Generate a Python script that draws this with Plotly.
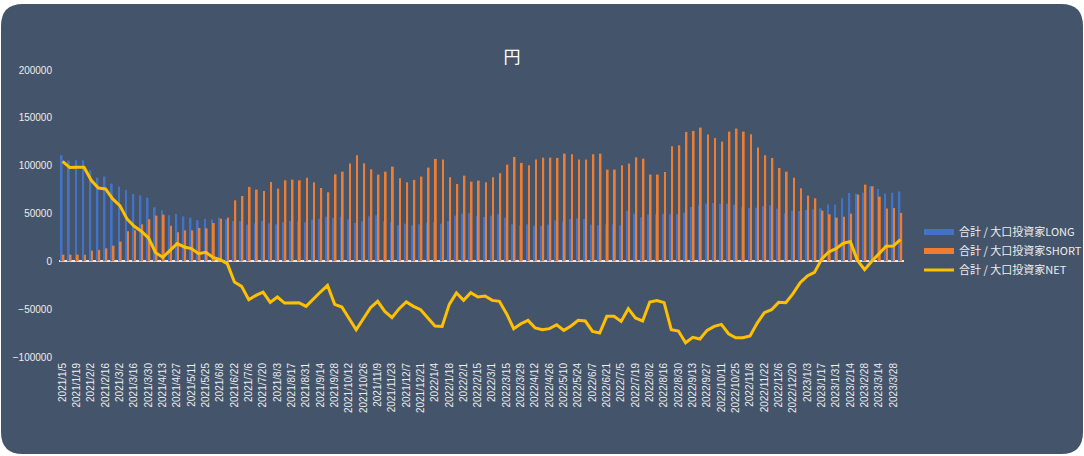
import plotly.graph_objects as go

dates = """2021/1/5 2021/1/12 2021/1/19 2021/1/26 2021/2/2 2021/2/9 2021/2/16 2021/2/23 2021/3/2 2021/3/9
2021/3/16 2021/3/23 2021/3/30 2021/4/6 2021/4/13 2021/4/20 2021/4/27 2021/5/4 2021/5/11 2021/5/18
2021/5/25 2021/6/1 2021/6/8 2021/6/15 2021/6/22 2021/6/29 2021/7/6 2021/7/13 2021/7/20 2021/7/27
2021/8/3 2021/8/10 2021/8/17 2021/8/24 2021/8/31 2021/9/7 2021/9/14 2021/9/21 2021/9/28 2021/10/5
2021/10/12 2021/10/19 2021/10/26 2021/11/2 2021/11/9 2021/11/16 2021/11/23 2021/11/30 2021/12/7 2021/12/14
2021/12/21 2021/12/28 2022/1/4 2022/1/11 2022/1/18 2022/1/25 2022/2/1 2022/2/8 2022/2/15 2022/2/22
2022/3/1 2022/3/8 2022/3/15 2022/3/22 2022/3/29 2022/4/5 2022/4/12 2022/4/19 2022/4/26 2022/5/3
2022/5/10 2022/5/17 2022/5/24 2022/5/31 2022/6/7 2022/6/14 2022/6/21 2022/6/28 2022/7/5 2022/7/12
2022/7/19 2022/7/26 2022/8/2 2022/8/9 2022/8/16 2022/8/23 2022/8/30 2022/9/6 2022/9/13 2022/9/20
2022/9/27 2022/10/4 2022/10/11 2022/10/18 2022/10/25 2022/11/1 2022/11/8 2022/11/15 2022/11/22 2022/11/29
2022/12/6 2022/12/13 2022/12/20 2022/12/27 2023/1/3 2023/1/10 2023/1/17 2023/1/24 2023/1/31 2023/2/7
2023/2/14 2023/2/21 2023/2/28 2023/3/7 2023/3/14 2023/3/21 2023/3/28 2023/4/4""".split()

long_vals = [
    110900, 105300, 105700, 105700, 95200, 87500, 88600, 81200, 78100, 74600,
    70400, 69000, 66600, 56500, 53400, 48100, 49500, 47100, 45700, 42900,
    44300, 43600, 45700, 43900, 42200, 42200, 38400, 39800, 42200, 39800,
    38700, 40800, 42200, 41800, 40800, 43600, 44600, 46700, 45700, 46400,
    43900, 40100, 41800, 47100, 48100, 41800, 40800, 37700, 39400, 37700,
    38700, 40400, 40800, 39400, 42200, 47800, 49900, 50600, 47400, 46400,
    47800, 49200, 45700, 38700, 37700, 38700, 37300, 37000, 38400, 42900,
    41500, 44300, 45000, 44300, 38400, 37700, 38400, 38400, 37700, 52700,
    49900, 46000, 48800, 49200, 49900, 49200, 49200, 50900, 56800, 58600,
    60300, 61000, 60000, 60300, 59300, 56500, 55800, 56100, 57500, 58600,
    55100, 49900, 53000, 52700, 53700, 54400, 55400, 59600, 59300, 65900,
    71500, 70800, 71800, 78500, 75700, 70800, 71800, 73200,
]

short_vals = [
    7000, 7000, 7000, 7000, 11200, 11900, 13600, 16400, 20600, 31400,
    32400, 38700, 43900, 47800, 48800, 37300, 30300, 32400, 32400, 34900,
    34500, 40100, 44600, 45700, 63800, 68300, 77800, 75000, 73600, 83000,
    76000, 84700, 85400, 84700, 87500, 82600, 76700, 72200, 91000, 93800,
    102200, 110900, 102500, 96200, 90700, 93800, 99000, 86800, 82600, 85100,
    88600, 98000, 107100, 106400, 87900, 80900, 89600, 83300, 84400, 82600,
    87900, 92100, 101100, 109100, 102900, 100400, 106400, 108400, 108400, 108100,
    112600, 111900, 106400, 106400, 111900, 112600, 95900, 95900, 100400, 102200,
    108800, 107400, 90700, 90700, 93500, 120300, 121300, 135300, 136300, 139800,
    132500, 129000, 125200, 135600, 138800, 135600, 132900, 118900, 110900, 108100,
    97600, 93800, 87500, 76400, 68700, 65900, 53000, 49200, 45700, 46700,
    49900, 69700, 80200, 78500, 67600, 55100, 55800, 50600,
]

net_vals = [
    104600, 98000, 98400, 98400, 84700, 76700, 75700, 65200, 58200, 44300,
    36600, 31400, 24400, 9100, 4200, 11500, 18500, 15000, 13300, 8000,
    9400, 4200, 1700, -2400, -21600, -26200, -40100, -35600, -32100, -42900,
    -37300, -43600, -43200, -43200, -47100, -39100, -32100, -25100, -45000, -47800,
    -60000, -71500, -60000, -48500, -41800, -52300, -58900, -49500, -42500, -47100,
    -50600, -58900, -67600, -68000, -45000, -33100, -40800, -32800, -37300, -36300,
    -40800, -41800, -54700, -70400, -65200, -61700, -69700, -71500, -70400, -66300,
    -72200, -67600, -61700, -62400, -73200, -75000, -57500, -57500, -62800, -49500,
    -59200, -62400, -42500, -41100, -43200, -71500, -72900, -85100, -79500, -81200,
    -72200, -68000, -65900, -75700, -79900, -79900, -78100, -64500, -53700, -50600,
    -42900, -43200, -33800, -22300, -15300, -11500, 2400, 9800, 13300, 18800,
    20600, 1000, -8700, 0, 8000, 15700, 16000, 22700,
]

tick_labels = dates[::2]
y_ticks = [-100000, -50000, 0, 50000, 100000, 150000, 200000]

series_names = ["合計 / 大口投資家LONG", "合計 / 大口投資家SHORT", "合計 / 大口投資家NET"]
BLUE, ORANGE, YELLOW = "#4472C4", "#ED7D31", "#FFC000"
BG = "#44546A"
TXT = "#EDEDED"

W, H = 1084, 456
ML, MR, MT, MB = 59, 180, 70, 99
PW, PH = W - ML - MR, H - MT - MB


def px(xp):
    return (xp - ML) / PW


def py(yp):
    return (H - MB - yp) / PH


fig = go.Figure()
fig.add_trace(go.Bar(x=dates, y=long_vals, marker_color=BLUE, marker_line_width=0,
                     name=series_names[0], showlegend=False))
fig.add_trace(go.Bar(x=dates, y=short_vals, marker_color=ORANGE, marker_line_width=0,
                     name=series_names[1], showlegend=False))
fig.add_trace(go.Scatter(x=dates, y=net_vals, mode="lines", line=dict(color=YELLOW, width=3),
                         name=series_names[2], showlegend=False))
# legend entries (Excel-like swatches)
fig.add_trace(go.Scatter(x=[None], y=[None], mode="lines", line=dict(color=BLUE, width=6),
                         name=series_names[0]))
fig.add_trace(go.Scatter(x=[None], y=[None], mode="lines", line=dict(color=ORANGE, width=6),
                         name=series_names[1]))
fig.add_trace(go.Scatter(x=[None], y=[None], mode="lines", line=dict(color=YELLOW, width=3),
                         name=series_names[2]))

# rounded chart background
x0, x1, t, b, r = 1, 1083, 4, 454, 22
path = (f"M {px(x0 + r)} {py(t)} L {px(x1 - r)} {py(t)} Q {px(x1)} {py(t)} {px(x1)} {py(t + r)} "
        f"L {px(x1)} {py(b - r)} Q {px(x1)} {py(b)} {px(x1 - r)} {py(b)} "
        f"L {px(x0 + r)} {py(b)} Q {px(x0)} {py(b)} {px(x0)} {py(b - r)} "
        f"L {px(x0)} {py(t + r)} Q {px(x0)} {py(t)} {px(x0 + r)} {py(t)} Z")

fig.update_layout(
    width=W, height=H,
    margin=dict(l=ML, r=MR, t=MT, b=MB, autoexpand=False),
    paper_bgcolor="white",
    plot_bgcolor="rgba(0,0,0,0)",
    barmode="group", bargap=0.5, bargroupgap=0,
    font=dict(family="Liberation Sans, Arial, sans-serif", color=TXT, size=10),
    title=dict(text="円", x=512 / W, xref="container", xanchor="center",
               y=1 - 57 / H, yref="container", yanchor="middle",
               font=dict(family="Noto Sans CJK JP", size=17, color="white")),
    shapes=[dict(type="path", path=path, xref="paper", yref="paper",
                 fillcolor=BG, line=dict(width=0), layer="below")],
    legend=dict(x=px(919), xanchor="left", y=py(251), yanchor="middle",
                xref="paper", yref="paper",
                font=dict(family="Noto Sans CJK JP", size=11, color=TXT),
                bgcolor="rgba(0,0,0,0)", tracegroupgap=0, itemwidth=30),
    xaxis=dict(type="category", tickmode="array", tickvals=tick_labels, ticktext=tick_labels,
               tickangle=-90, showgrid=False, showline=False, zeroline=False, ticks="",
               tickfont=dict(size=10, color=TXT), automargin=False, ticklabelstandoff=3),
    yaxis=dict(range=[-100000, 200000], tickmode="array", tickvals=y_ticks, tickformat="d",
               showgrid=False, showline=False, zeroline=True, zerolinecolor="#E8E8E8",
               zerolinewidth=1.5, ticks="", tickfont=dict(size=10, color=TXT), automargin=False,
               ticklabelstandoff=6),
)

fig.write_html("out.html", config={"displayModeBar": False},
               post_script="document.body.style.margin='0';document.body.style.padding='0';"
                           "document.documentElement.style.overflow='hidden';")
